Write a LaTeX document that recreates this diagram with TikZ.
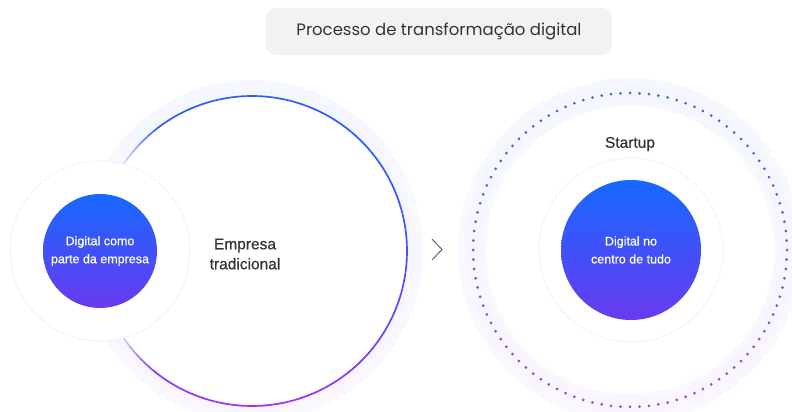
\documentclass[tikz,border=0pt]{standalone}
\usepackage{fontspec}
\setmainfont{Liberation Sans}
\newfontfamily\titlefont{Poppins}
\usetikzlibrary{arrows.meta, shapes, calc}

\definecolor{titlegray}{HTML}{F2F2F2}
\definecolor{textgray}{HTML}{333333}
\definecolor{ringblue}{HTML}{2F5BFF}
\definecolor{ringpurple}{HTML}{9A30F0}
\definecolor{dotblue}{HTML}{4A62DA}
\definecolor{dotpurple}{HTML}{9448DE}
\definecolor{coretop}{HTML}{1668FF}
\definecolor{coremid}{HTML}{2C5CFA}
\definecolor{corebot}{HTML}{6A3AF0}

\tikzset{
  core/.style={circle, inner sep=0pt, text=white, align=center,
    top color=coretop, middle color=coremid, bottom color=corebot,
    font=\addfontfeature{FakeBold=0.6}\fontsize{12.5}{18}\selectfont},
  label/.style={text=textgray, align=center,
    font=\addfontfeature{FakeBold=0.6}\fontsize{15.5}{20}\selectfont},
  halo/.style={draw=black!4, line width=1.2pt},
  glowwide/.style={even odd rule, top color=ringblue!4, bottom color=ringpurple!4},
  glownarrow/.style={even odd rule, top color=ringblue!5, bottom color=ringpurple!5}
}

\begin{document}
\begin{tikzpicture}[x=1pt, y=1pt]
\useasboundingbox (0,0) rectangle (792,412);

% title
\node[fill=titlegray, rounded corners=10pt, minimum width=346pt, minimum height=47pt,
      text=textgray, font=\titlefont\fontsize{16.5}{20}\selectfont] (title) at (439,380.5)
      {Processo de transformação digital};

% centres
\coordinate (B) at (252,161);
\coordinate (R) at (630,162);

% glow of the big circle
\shade[glowwide] (B) circle (171) (B) circle (155);
\shade[glownarrow] (B) circle (163) (B) circle (155);

% gradient stroke of the big circle
\foreach \a in {150,148,...,-150} {
    \pgfmathsetmacro\t{max(0,(1-sin(\a))/2)}
    \pgfmathsetmacro\p{100*\t*\t}
    \pgfmathsetmacro\o{min(1,(150-abs(\a))/22)}
    \draw[line width=1.7pt, draw=ringpurple!\p!ringblue, opacity=\o]
        ($(B)+(\a:155)$) arc (\a:\a-2:155);
}

% faint disc round the left core
\draw[halo, fill=white] (100,161) circle (90);

% glow band and dotted ring of the startup
\shade[glowwide] (R) circle (172) (R) circle (144);
\shade[glownarrow] (R) circle (165) (R) circle (149);
\foreach \i in {0,...,103} {
    \pgfmathsetmacro\a{\i*3.4615}
    \pgfmathsetmacro\t{max(0,(1-sin(\a))/2)}
    \pgfmathsetmacro\p{100*\t*\t}
    \fill[dotpurple!\p!dotblue] ($(R)+(\a:157)$) circle (1.5);
}
\draw[halo, fill=white] (631,162) circle (92);

% cores
\node[core, minimum size=114pt] (L) at (100,161) {Digital como\\parte da empresa};
\node[core, minimum size=140pt] (C) at (631,162) {Digital no\\centro de tudo};

% labels
\node[label] (trad) at (245,158) {Empresa\\tradicional};
\node[label] (startup) at (630,268) {Startup};

% chevron
\coordinate (chA) at (432,173);
\coordinate (chB) at (442,162.5);
\coordinate (chC) at (432,152);
\draw[draw=black!60, line width=1pt] (chA) -- (chB) -- (chC);
\end{tikzpicture}
\end{document}
